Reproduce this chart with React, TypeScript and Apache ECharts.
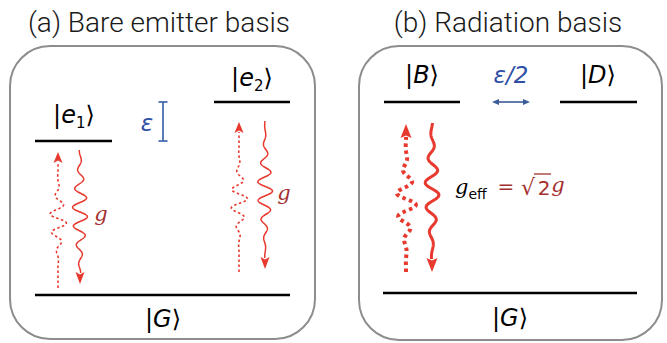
import React, { useEffect, useRef } from "react";
import * as echarts from "echarts";

// ---- content (texts / labels) ----
const panelTitles = ["(a) Bare emitter basis", "(b) Radiation basis"];
const bareExcited = [
  { sym: "e", sub: "1" },
  { sym: "e", sub: "2" },
];
const radiationExcited = [{ sym: "B" }, { sym: "D" }];
const groundSym = "G";
const couplingLabel = "g";
const effLabelParts = ["g", "eff", "=", "√", "2", "g"];
const detuningLabels = ["ε", "ε/2"];

// ---- styles ----
const RED = "#e8392e";
const DARKRED = "#a3302f";
const BLUE = "#2f4fa6";
const BLUE_LINE = "#4a6db2";
const MATH_FONT = "DejaVu Sans";

const ketRich = {
  b: { fontFamily: MATH_FONT, fontSize: 24, color: "#111", lineHeight: 30 },
  i: { fontFamily: MATH_FONT, fontStyle: "italic", fontSize: 24, color: "#111", lineHeight: 30 },
  s: { fontFamily: MATH_FONT, fontSize: 15, color: "#111", lineHeight: 15, verticalAlign: "bottom" },
};

function ket(sym: string, sub?: string) {
  return "{b||}{i|" + sym + "}" + (sub ? "{s|" + sub + "}" : "") + "{b|⟩}";
}

function ketText(x: number, y: number, sym: string, sub?: string) {
  return {
    type: "text",
    style: {
      x,
      y,
      text: ket(sym, sub),
      align: "center",
      verticalAlign: "middle",
      rich: ketRich,
    },
  };
}

function level(x1: number, x2: number, y: number) {
  return {
    type: "line",
    shape: { x1, y1: y, x2, y2: y },
    style: { stroke: "#000", lineWidth: 2.4 },
  };
}

// vertical wave packet polyline
function wavePoints(
  xc: number,
  yFrom: number,
  yTo: number,
  yc: number,
  sigma: number,
  amp: number,
  lambda: number,
  phase: number
) {
  const pts: number[][] = [];
  const step = yTo > yFrom ? 0.5 : -0.5;
  const n = Math.floor(Math.abs(yTo - yFrom) / 0.5);
  for (let k = 0; k <= n; k++) {
    const y = yFrom + k * step;
    const env = Math.exp(-0.5 * Math.pow((y - yc) / sigma, 2));
    const x = xc + amp * env * Math.sin((2 * Math.PI * (y - yc)) / lambda + phase);
    pts.push([x, y]);
  }
  return pts;
}

function waveArrow(opts: {
  xc: number;
  yStart: number;
  tip: number;
  yc: number;
  sigma: number;
  amp: number;
  lambda: number;
  phase: number;
  width: number;
  dash?: number[];
  headLen: number;
  headHalf: number;
}) {
  const dir = opts.tip > opts.yStart ? 1 : -1;
  const lineEnd = opts.tip - dir * (opts.headLen - 1);
  const pts = wavePoints(opts.xc, opts.yStart, lineEnd, opts.yc, opts.sigma, opts.amp, opts.lambda, opts.phase);
  const base = opts.tip - dir * opts.headLen;
  return [
    {
      type: "polyline",
      shape: { points: pts },
      style: {
        stroke: RED,
        lineWidth: opts.width,
        fill: null,
        lineDash: opts.dash || null,
        lineCap: "butt",
        lineJoin: "round",
      },
    },
    {
      type: "polygon",
      shape: {
        points: [
          [opts.xc, opts.tip],
          [opts.xc - opts.headHalf, base],
          [opts.xc, base + dir * 2.5],
          [opts.xc + opts.headHalf, base],
        ],
      },
      style: { fill: RED },
    },
  ];
}

function buildElements() {
  const els: any[] = [];
  // panel frames
  els.push({
    type: "rect",
    shape: { x: 10, y: 46, width: 305, height: 293, r: 40 },
    style: { fill: null, stroke: "#8d8d8d", lineWidth: 2 },
  });
  els.push({
    type: "rect",
    shape: { x: 359, y: 46, width: 303, height: 294, r: 40 },
    style: { fill: null, stroke: "#8d8d8d", lineWidth: 2 },
  });
  // titles
  const titleStyle = { fontFamily: "Roboto", fontWeight: 300, fontSize: 28, fill: "#1a1a1a", align: "center", verticalAlign: "middle" };
  els.push({ type: "text", style: { ...titleStyle, x: 159, y: 22, text: panelTitles[0] } });
  els.push({ type: "text", style: { ...titleStyle, x: 508, y: 22, text: panelTitles[1] } });

  // ---- panel (a) ----
  els.push(level(35, 112, 141));
  els.push(level(214, 290, 102));
  els.push(level(35, 290, 295));
  els.push(ketText(74, 115, bareExcited[0].sym, bareExcited[0].sub));
  els.push(ketText(252, 78, bareExcited[1].sym, bareExcited[1].sub));
  els.push(ketText(163, 319, groundSym));

  // epsilon bracket
  els.push({ type: "line", shape: { x1: 163, y1: 102, x2: 163, y2: 141 }, style: { stroke: BLUE_LINE, lineWidth: 1.8 } });
  els.push({ type: "line", shape: { x1: 158.5, y1: 102, x2: 167.5, y2: 102 }, style: { stroke: BLUE_LINE, lineWidth: 1.8 } });
  els.push({ type: "line", shape: { x1: 158.5, y1: 141, x2: 167.5, y2: 141 }, style: { stroke: BLUE_LINE, lineWidth: 1.8 } });
  els.push({
    type: "text",
    style: { x: 147, y: 123, text: detuningLabels[0], fontFamily: MATH_FONT, fontStyle: "italic", fontSize: 23, fill: BLUE, align: "center", verticalAlign: "middle" },
  });

  // arrows under e1
  els.push(...waveArrow({ xc: 58, yStart: 288, tip: 152, yc: 220, sigma: 17, amp: 8.5, lambda: 19, phase: 0.5, width: 1.6, dash: [2.5, 2.5], headLen: 11, headHalf: 4.5 }));
  els.push(...waveArrow({ xc: 80, yStart: 150, tip: 284, yc: 212, sigma: 28, amp: 7.5, lambda: 19, phase: 0, width: 1.5, headLen: 12, headHalf: 4.5 }));
  // arrows under e2
  els.push(...waveArrow({ xc: 239, yStart: 272, tip: 122, yc: 200, sigma: 18, amp: 8.5, lambda: 19, phase: 2.0, width: 1.6, dash: [2.5, 2.5], headLen: 11, headHalf: 4.5 }));
  els.push(...waveArrow({ xc: 265, yStart: 121, tip: 269, yc: 190, sigma: 26, amp: 7.5, lambda: 19, phase: 1.2, width: 1.5, headLen: 12, headHalf: 4.5 }));

  const gStyle = { fontFamily: "DejaVu Serif", fontStyle: "italic", fontSize: 21, fill: DARKRED, align: "center", verticalAlign: "middle" };
  els.push({ type: "text", style: { ...gStyle, x: 101, y: 214, text: couplingLabel } });
  els.push({ type: "text", style: { ...gStyle, x: 284, y: 193, text: couplingLabel } });

  // ---- panel (b) ----
  els.push(level(384, 460, 102));
  els.push(level(560, 637, 102));
  els.push(level(383, 637, 293));
  els.push(ketText(422, 75, radiationExcited[0].sym));
  els.push(ketText(598, 75, radiationExcited[1].sym));
  els.push(ketText(510, 318, groundSym));

  els.push({
    type: "text",
    style: { x: 511, y: 75, text: detuningLabels[1], fontFamily: MATH_FONT, fontStyle: "italic", fontSize: 23, fill: BLUE, align: "center", verticalAlign: "middle" },
  });
  // double arrow
  els.push({ type: "line", shape: { x1: 496, y1: 102, x2: 526, y2: 102 }, style: { stroke: "#3a5c98", lineWidth: 1.6 } });
  els.push({ type: "polygon", shape: { points: [[492, 102], [499, 99], [499, 105]] }, style: { fill: "#3a5c98" } });
  els.push({ type: "polygon", shape: { points: [[530, 102], [523, 99], [523, 105]] }, style: { fill: "#3a5c98" } });

  els.push(...waveArrow({ xc: 406, yStart: 272, tip: 124, yc: 202, sigma: 21, amp: 10, lambda: 24, phase: 0.8, width: 4, dash: [3.5, 3.5], headLen: 14, headHalf: 5.5 }));
  els.push(...waveArrow({ xc: 432, yStart: 123, tip: 272, yc: 190, sigma: 30, amp: 7, lambda: 25, phase: 0.3, width: 3, headLen: 14, headHalf: 5.5 }));

  // g_eff = sqrt(2) g
  els.push({
    type: "text",
    style: {
      x: 455,
      y: 187,
      text: "{g|" + effLabelParts[0] + "}{s|" + effLabelParts[1] + "}",
      align: "left",
      verticalAlign: "middle",
      rich: {
        g: { fontFamily: "DejaVu Serif", fontStyle: "italic", fontSize: 21, color: DARKRED, lineHeight: 28 },
        s: { fontFamily: MATH_FONT, fontSize: 14, color: DARKRED, lineHeight: 16, verticalAlign: "bottom" },
      },
    },
  });
  els.push({ type: "text", style: { x: 506, y: 186, text: effLabelParts[2], fontFamily: MATH_FONT, fontSize: 20, fill: DARKRED, align: "center", verticalAlign: "middle" } });
  els.push({ type: "text", style: { x: 528, y: 187, text: effLabelParts[3], fontFamily: MATH_FONT, fontSize: 22, fill: DARKRED, align: "center", verticalAlign: "middle" } });
  els.push({ type: "text", style: { x: 544, y: 188, text: effLabelParts[4], fontFamily: MATH_FONT, fontSize: 20, fill: DARKRED, align: "center", verticalAlign: "middle" } });
  els.push({ type: "line", shape: { x1: 534, y1: 174, x2: 551, y2: 174 }, style: { stroke: DARKRED, lineWidth: 1.3 } });
  els.push({ type: "text", style: { x: 558, y: 185, text: effLabelParts[5], fontFamily: "DejaVu Serif", fontStyle: "italic", fontSize: 21, fill: DARKRED, align: "center", verticalAlign: "middle" } });

  return els;
}

export default function App() {
  const ref = useRef<HTMLDivElement>(null);
  useEffect(() => {
    const chart = echarts.init(ref.current!, null, { renderer: "svg" });
    chart.setOption({
      animation: false,
      backgroundColor: "#ffffff",
      graphic: { elements: buildElements() },
    });
    return () => chart.dispose();
  }, []);
  return (
    <div
      ref={ref}
      style={{ position: "fixed", left: 0, top: 0, width: 667, height: 343, background: "#fff" }}
    />
  );
}
